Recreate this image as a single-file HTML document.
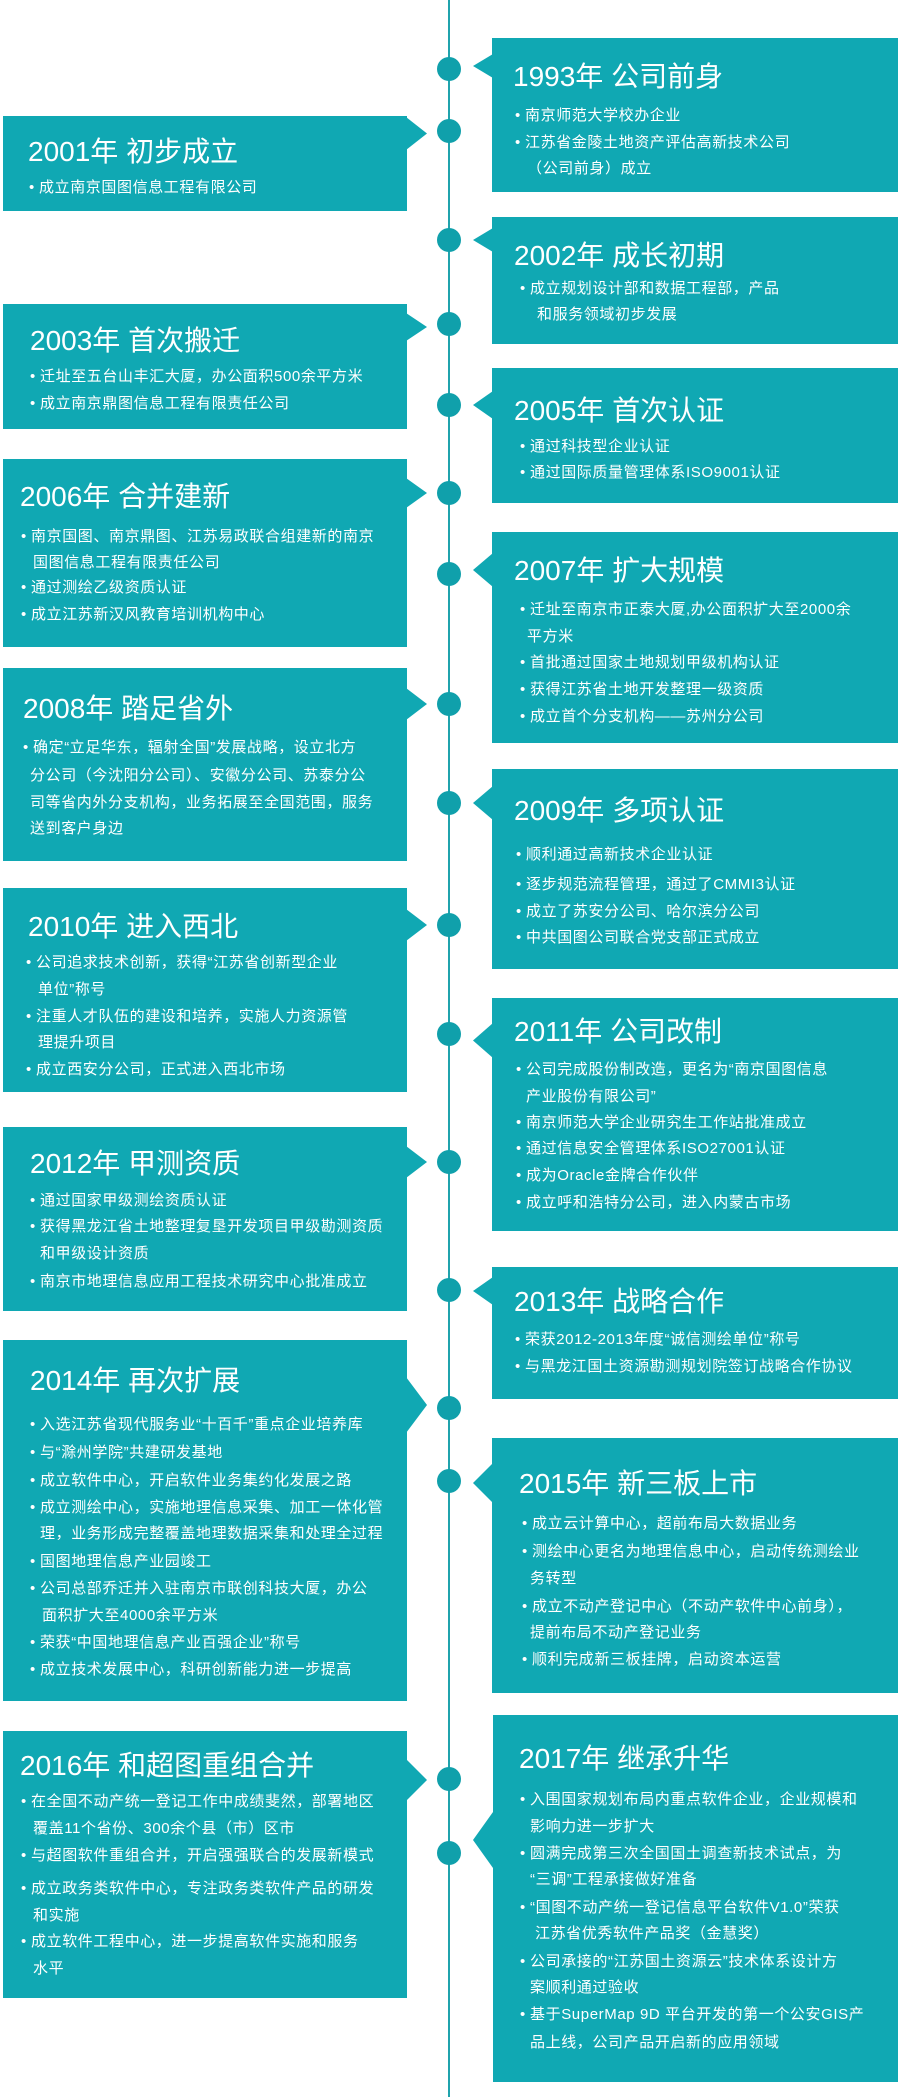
<!DOCTYPE html>
<html><head><meta charset="utf-8"><style>
*{margin:0;padding:0}
body{width:898px;height:2097px;position:relative;background:#fff;overflow:hidden;font-family:"Liberation Sans","Noto Sans CJK SC",sans-serif;color:#fff}
.v{position:absolute;left:448px;top:0;width:2px;height:2097px;background:#20a3ad}
.b{position:absolute;background:#10a8b3}
.pr{position:absolute;left:473px;width:20px;background:#10a8b3;clip-path:polygon(100% 0,0 50%,100% 100%)}
.pl{position:absolute;left:406px;width:21px;background:#10a8b3;clip-path:polygon(0 0,100% 50%,0 100%)}
.d{position:absolute;left:437px;width:24px;height:24px;border-radius:50%;background:#10a0ab}
.h{position:absolute;font-size:28px;line-height:28px;white-space:nowrap}
.l{position:absolute;font-size:15px;line-height:20px;letter-spacing:0.6px;white-space:nowrap}
.l i{position:absolute;left:-10px;font-style:normal}
</style></head><body>
<div class="v"></div>

<!-- 1993 -->
<div class="b" style="left:492px;top:38px;width:406px;height:154px"></div>
<div class="pr" style="top:54px;height:24px"></div>
<div class="d" style="top:57px"></div>
<div class="h" style="left:513px;top:63px">1993年 公司前身</div>
<div class="l" style="left:525px;top:106px"><i>•</i>南京师范大学校办企业</div>
<div class="l" style="left:525px;top:133px"><i>•</i>江苏省金陵土地资产评估高新技术公司</div>
<div class="l" style="left:527px;top:159px">（公司前身）成立</div>

<!-- 2001 -->
<div class="b" style="left:3px;top:116px;width:404px;height:95px"></div>
<div class="pl" style="top:117px;height:33px"></div>
<div class="d" style="top:119px"></div>
<div class="h" style="left:28px;top:138px">2001年 初步成立</div>
<div class="l" style="left:39px;top:178px"><i>•</i>成立南京国图信息工程有限公司</div>

<!-- 2002 -->
<div class="b" style="left:492px;top:217px;width:406px;height:127px"></div>
<div class="pr" style="top:228px;height:24px"></div>
<div class="d" style="top:228px"></div>
<div class="h" style="left:514px;top:242px">2002年 成长初期</div>
<div class="l" style="left:530px;top:279px"><i>•</i>成立规划设计部和数据工程部，产品</div>
<div class="l" style="left:537px;top:305px">和服务领域初步发展</div>

<!-- 2003 -->
<div class="b" style="left:3px;top:304px;width:404px;height:125px"></div>
<div class="pl" style="top:313px;height:28px"></div>
<div class="d" style="top:312px"></div>
<div class="h" style="left:30px;top:327px">2003年 首次搬迁</div>
<div class="l" style="left:40px;top:367px"><i>•</i>迁址至五台山丰汇大厦，办公面积500余平方米</div>
<div class="l" style="left:40px;top:394px"><i>•</i>成立南京鼎图信息工程有限责任公司</div>

<!-- 2005 -->
<div class="b" style="left:492px;top:368px;width:406px;height:135px"></div>
<div class="pr" style="top:391px;height:28px"></div>
<div class="d" style="top:393px"></div>
<div class="h" style="left:514px;top:397px">2005年 首次认证</div>
<div class="l" style="left:530px;top:437px"><i>•</i>通过科技型企业认证</div>
<div class="l" style="left:530px;top:463px"><i>•</i>通过国际质量管理体系ISO9001认证</div>

<!-- 2006 -->
<div class="b" style="left:3px;top:459px;width:404px;height:188px"></div>
<div class="pl" style="top:478px;height:30px"></div>
<div class="d" style="top:481px"></div>
<div class="h" style="left:20px;top:483px">2006年 合并建新</div>
<div class="l" style="left:31px;top:527px"><i>•</i>南京国图、南京鼎图、江苏易政联合组建新的南京</div>
<div class="l" style="left:33px;top:553px">国图信息工程有限责任公司</div>
<div class="l" style="left:31px;top:578px"><i>•</i>通过测绘乙级资质认证</div>
<div class="l" style="left:31px;top:605px"><i>•</i>成立江苏新汉风教育培训机构中心</div>

<!-- 2007 -->
<div class="b" style="left:492px;top:532px;width:406px;height:211px"></div>
<div class="pr" style="top:553px;height:34px"></div>
<div class="d" style="top:562px"></div>
<div class="h" style="left:514px;top:557px">2007年 扩大规模</div>
<div class="l" style="left:530px;top:600px"><i>•</i>迁址至南京市正泰大厦,办公面积扩大至2000余</div>
<div class="l" style="left:527px;top:627px">平方米</div>
<div class="l" style="left:530px;top:653px"><i>•</i>首批通过国家土地规划甲级机构认证</div>
<div class="l" style="left:530px;top:680px"><i>•</i>获得江苏省土地开发整理一级资质</div>
<div class="l" style="left:530px;top:707px"><i>•</i>成立首个分支机构——苏州分公司</div>

<!-- 2008 -->
<div class="b" style="left:3px;top:668px;width:404px;height:193px"></div>
<div class="pl" style="top:688px;height:32px"></div>
<div class="d" style="top:692px"></div>
<div class="h" style="left:23px;top:695px">2008年 踏足省外</div>
<div class="l" style="left:33px;top:738px"><i>•</i>确定“立足华东，辐射全国”发展战略，设立北方</div>
<div class="l" style="left:30px;top:766px">分公司（今沈阳分公司）、安徽分公司、苏泰分公</div>
<div class="l" style="left:30px;top:793px">司等省内外分支机构，业务拓展至全国范围，服务</div>
<div class="l" style="left:30px;top:819px">送到客户身边</div>

<!-- 2009 -->
<div class="b" style="left:492px;top:769px;width:406px;height:200px"></div>
<div class="pr" style="top:786px;height:34px"></div>
<div class="d" style="top:791px"></div>
<div class="h" style="left:514px;top:797px">2009年 多项认证</div>
<div class="l" style="left:526px;top:845px"><i>•</i>顺利通过高新技术企业认证</div>
<div class="l" style="left:526px;top:875px"><i>•</i>逐步规范流程管理，通过了CMMI3认证</div>
<div class="l" style="left:526px;top:902px"><i>•</i>成立了苏安分公司、哈尔滨分公司</div>
<div class="l" style="left:526px;top:928px"><i>•</i>中共国图公司联合党支部正式成立</div>

<!-- 2010 -->
<div class="b" style="left:3px;top:888px;width:404px;height:204px"></div>
<div class="pl" style="top:909px;height:32px"></div>
<div class="d" style="top:913px"></div>
<div class="h" style="left:28px;top:913px">2010年 进入西北</div>
<div class="l" style="left:36px;top:953px"><i>•</i>公司追求技术创新，获得“江苏省创新型企业</div>
<div class="l" style="left:38px;top:980px">单位”称号</div>
<div class="l" style="left:36px;top:1007px"><i>•</i>注重人才队伍的建设和培养，实施人力资源管</div>
<div class="l" style="left:38px;top:1033px">理提升项目</div>
<div class="l" style="left:36px;top:1060px"><i>•</i>成立西安分公司，正式进入西北市场</div>

<!-- 2011 -->
<div class="b" style="left:492px;top:998px;width:406px;height:233px"></div>
<div class="pr" style="top:1023px;height:35px"></div>
<div class="d" style="top:1022px"></div>
<div class="h" style="left:514px;top:1018px">2011年 公司改制</div>
<div class="l" style="left:526px;top:1060px"><i>•</i>公司完成股份制改造，更名为“南京国图信息</div>
<div class="l" style="left:526px;top:1087px">产业股份有限公司”</div>
<div class="l" style="left:526px;top:1113px"><i>•</i>南京师范大学企业研究生工作站批准成立</div>
<div class="l" style="left:526px;top:1139px"><i>•</i>通过信息安全管理体系ISO27001认证</div>
<div class="l" style="left:526px;top:1166px"><i>•</i>成为Oracle金牌合作伙伴</div>
<div class="l" style="left:526px;top:1193px"><i>•</i>成立呼和浩特分公司，进入内蒙古市场</div>

<!-- 2012 -->
<div class="b" style="left:3px;top:1127px;width:404px;height:184px"></div>
<div class="pl" style="top:1146px;height:32px"></div>
<div class="d" style="top:1150px"></div>
<div class="h" style="left:30px;top:1150px">2012年 甲测资质</div>
<div class="l" style="left:40px;top:1191px"><i>•</i>通过国家甲级测绘资质认证</div>
<div class="l" style="left:40px;top:1217px"><i>•</i>获得黑龙江省土地整理复垦开发项目甲级勘测资质</div>
<div class="l" style="left:40px;top:1244px">和甲级设计资质</div>
<div class="l" style="left:40px;top:1272px"><i>•</i>南京市地理信息应用工程技术研究中心批准成立</div>

<!-- 2013 -->
<div class="b" style="left:492px;top:1267px;width:406px;height:132px"></div>
<div class="pr" style="top:1277px;height:28px"></div>
<div class="d" style="top:1278px"></div>
<div class="h" style="left:514px;top:1288px">2013年 战略合作</div>
<div class="l" style="left:525px;top:1330px"><i>•</i>荣获2012-2013年度“诚信测绘单位”称号</div>
<div class="l" style="left:525px;top:1357px"><i>•</i>与黑龙江国土资源勘测规划院签订战略合作协议</div>

<!-- 2014 -->
<div class="b" style="left:3px;top:1340px;width:404px;height:361px"></div>
<div class="pl" style="top:1377px;height:56px"></div>
<div class="d" style="top:1396px"></div>
<div class="h" style="left:30px;top:1367px">2014年 再次扩展</div>
<div class="l" style="left:40px;top:1415px"><i>•</i>入选江苏省现代服务业“十百千”重点企业培养库</div>
<div class="l" style="left:40px;top:1443px"><i>•</i>与“滁州学院”共建研发基地</div>
<div class="l" style="left:40px;top:1471px"><i>•</i>成立软件中心，开启软件业务集约化发展之路</div>
<div class="l" style="left:40px;top:1498px"><i>•</i>成立测绘中心，实施地理信息采集、加工一体化管</div>
<div class="l" style="left:40px;top:1524px">理，业务形成完整覆盖地理数据采集和处理全过程</div>
<div class="l" style="left:40px;top:1552px"><i>•</i>国图地理信息产业园竣工</div>
<div class="l" style="left:40px;top:1579px"><i>•</i>公司总部乔迁并入驻南京市联创科技大厦，办公</div>
<div class="l" style="left:42px;top:1606px">面积扩大至4000余平方米</div>
<div class="l" style="left:40px;top:1633px"><i>•</i>荣获“中国地理信息产业百强企业”称号</div>
<div class="l" style="left:40px;top:1660px"><i>•</i>成立技术发展中心，科研创新能力进一步提高</div>

<!-- 2015 -->
<div class="b" style="left:492px;top:1438px;width:406px;height:255px"></div>
<div class="pr" style="top:1463px;height:40px"></div>
<div class="d" style="top:1469px"></div>
<div class="h" style="left:519px;top:1470px">2015年 新三板上市</div>
<div class="l" style="left:532px;top:1514px"><i>•</i>成立云计算中心，超前布局大数据业务</div>
<div class="l" style="left:532px;top:1542px"><i>•</i>测绘中心更名为地理信息中心，启动传统测绘业</div>
<div class="l" style="left:530px;top:1569px">务转型</div>
<div class="l" style="left:532px;top:1597px"><i>•</i>成立不动产登记中心（不动产软件中心前身），</div>
<div class="l" style="left:530px;top:1623px">提前布局不动产登记业务</div>
<div class="l" style="left:532px;top:1650px"><i>•</i>顺利完成新三板挂牌，启动资本运营</div>

<!-- 2016 -->
<div class="b" style="left:3px;top:1731px;width:404px;height:267px"></div>
<div class="pl" style="top:1759px;height:42px"></div>
<div class="d" style="top:1767px"></div>
<div class="h" style="left:20px;top:1752px">2016年 和超图重组合并</div>
<div class="l" style="left:31px;top:1792px"><i>•</i>在全国不动产统一登记工作中成绩斐然，部署地区</div>
<div class="l" style="left:33px;top:1819px">覆盖11个省份、300余个县（市）区市</div>
<div class="l" style="left:31px;top:1846px"><i>•</i>与超图软件重组合并，开启强强联合的发展新模式</div>
<div class="l" style="left:31px;top:1879px"><i>•</i>成立政务类软件中心，专注政务类软件产品的研发</div>
<div class="l" style="left:33px;top:1906px">和实施</div>
<div class="l" style="left:31px;top:1932px"><i>•</i>成立软件工程中心，进一步提高软件实施和服务</div>
<div class="l" style="left:33px;top:1959px">水平</div>

<!-- 2017 -->
<div class="b" style="left:493px;top:1715px;width:405px;height:367px"></div>
<div class="pr" style="top:1812px;height:56px"></div>
<div class="d" style="top:1841px"></div>
<div class="h" style="left:519px;top:1745px">2017年 继承升华</div>
<div class="l" style="left:530px;top:1790px"><i>•</i>入围国家规划布局内重点软件企业，企业规模和</div>
<div class="l" style="left:530px;top:1817px">影响力进一步扩大</div>
<div class="l" style="left:530px;top:1844px"><i>•</i>圆满完成第三次全国国土调查新技术试点，为</div>
<div class="l" style="left:530px;top:1870px">“三调”工程承接做好准备</div>
<div class="l" style="left:530px;top:1898px"><i>•</i>“国图不动产统一登记信息平台软件V1.0”荣获</div>
<div class="l" style="left:535px;top:1924px">江苏省优秀软件产品奖（金慧奖）</div>
<div class="l" style="left:530px;top:1952px"><i>•</i>公司承接的“江苏国土资源云”技术体系设计方</div>
<div class="l" style="left:530px;top:1978px">案顺利通过验收</div>
<div class="l" style="left:530px;top:2005px"><i>•</i>基于SuperMap 9D 平台开发的第一个公安GIS产</div>
<div class="l" style="left:530px;top:2033px">品上线，公司产品开启新的应用领域</div>
</body></html>
